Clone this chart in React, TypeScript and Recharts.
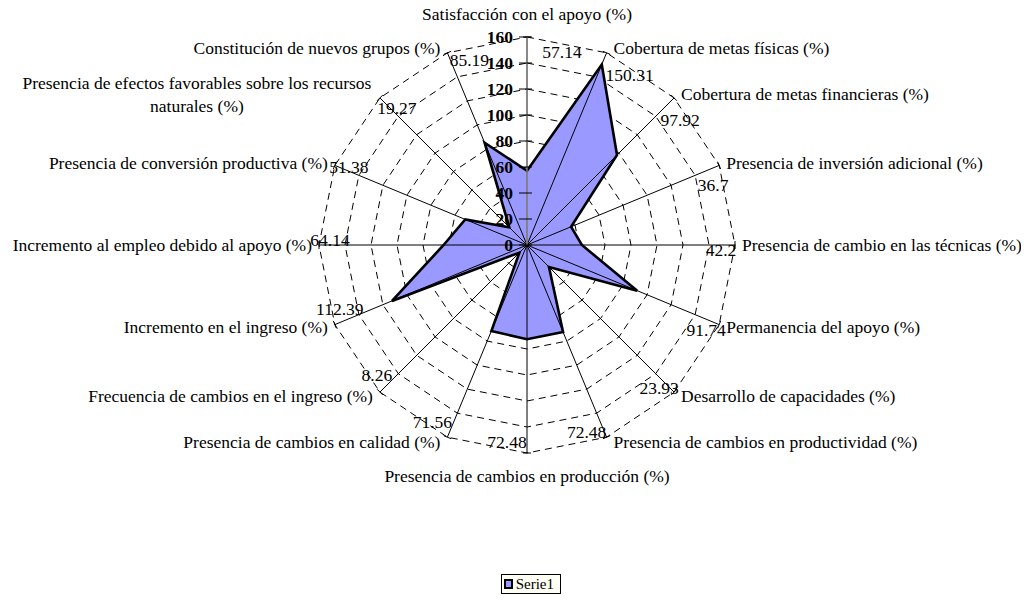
import React from 'react';
import { RadarChart, Radar, PolarGrid, PolarAngleAxis, PolarRadiusAxis, Legend } from 'recharts';

// ---- data ----
const CATEGORIES: string[] = [
  'Satisfacción con el apoyo (%)',
  'Cobertura de metas físicas (%)',
  'Cobertura de metas financieras (%)',
  'Presencia de inversión adicional (%)',
  'Presencia de cambio en las técnicas (%)',
  'Permanencia del apoyo (%)',
  'Desarrollo de capacidades (%)',
  'Presencia de cambios en productividad (%)',
  'Presencia de cambios en producción (%)',
  'Presencia de cambios en calidad (%)',
  'Frecuencia de cambios en el ingreso (%)',
  'Incremento en el ingreso (%)',
  'Incremento al empleo debido al apoyo (%)',
  'Presencia de conversión productiva (%)',
  'Presencia de efectos favorables sobre los recursos naturales (%)',
  'Constitución de nuevos grupos (%)',
];
const SERIE1: number[] = [
  57.14, 150.31, 97.92, 36.7, 42.2, 91.74, 23.93, 72.48,
  72.48, 71.56, 8.26, 112.39, 64.14, 51.38, 19.27, 85.19,
];
const RADIUS_TICKS: number[] = [0, 20, 40, 60, 80, 100, 120, 140, 160];
const SERIES_NAME = 'Serie1';

// ---- layout / style ----
const W = 1029;
const H = 602;
const CX = 527;
const CY = 245;
const R = 208;
const FONT = '"Liberation Serif", "Times New Roman", serif';
const FS = 17.5;
const FILL = '#9999FF';

// wrapped category label lines (index -> lines)
const WRAPPED: Record<number, string[]> = {
  14: ['Presencia de efectos favorables sobre los recursos', 'naturales (%)'],
};

// value label centre nudges relative to each spoke's outer end
const VALUE_NUDGE: [number, number][] = [
  [35, 15], [23, 22], [6, 22], [-6, 20], [-14, 5], [-13, 5], [-15, -4], [-20, -5],
  [-20, -11], [-15, -15], [-3, -17], [5, -16], [11, -5], [14, 2], [17, 10], [22, 7],
];

const data = CATEGORIES.map((c, i) => ({ category: c, serie1: SERIE1[i] }));

const unit = (angleDeg: number) => {
  const rad = (-angleDeg * Math.PI) / 180;
  return { ux: Math.cos(rad), uy: Math.sin(rad) };
};

const AngleTick = (props: any) => {
  const { payload, index } = props;
  const angle = payload.coordinate;
  const { ux, uy } = unit(angle);
  const ex = CX + R * ux;
  const ey = CY + R * uy;
  const label = payload.value as string;
  let anchor: 'start' | 'middle' | 'end' = 'middle';
  let tx = ex;
  let ty = ey;
  if (Math.abs(ux) < 0.01) {
    ty = uy < 0 ? ey - 23 : ey + 23;
  } else if (ux > 0) {
    anchor = 'start';
    tx = ex + 7;
    ty = ey + uy * 5;
  } else {
    anchor = 'end';
    tx = ex - 7;
    ty = ey + uy * 5;
  }
  const nudge = VALUE_NUDGE[index] || [0, 0];
  const lines = WRAPPED[index];
  const px = -uy;
  const py = ux;
  return (
    <g>
      <line x1={ex - px * 4} y1={ey - py * 4} x2={ex + px * 4} y2={ey + py * 4} stroke="#000" strokeWidth={1} />
      {lines ? (
        <text
          x={tx - 176}
          y={ty - 11.5}
          textAnchor="middle"
          dominantBaseline="central"
          fontFamily={FONT}
          fontSize={FS}
          fill="#000"
        >
          {lines.map((l, k) => (
            <tspan key={k} x={tx - 176} dy={k === 0 ? 0 : 23}>
              {l}
            </tspan>
          ))}
        </text>
      ) : (
        <text x={tx} y={ty} textAnchor={anchor} dominantBaseline="central" fontFamily={FONT} fontSize={FS} fill="#000">
          {label}
        </text>
      )}
      <text
        x={ex + nudge[0]}
        y={ey + nudge[1]}
        textAnchor="middle"
        dominantBaseline="central"
        fontFamily={FONT}
        fontSize={FS}
        fill="#000"
      >
        {String(SERIE1[index])}
      </text>
    </g>
  );
};

const RadiusTick = (props: any) => {
  const { x, y, payload } = props;
  return (
    <g>
      <line x1={x - 8} y1={y} x2={x + 5} y2={y} stroke="#000" strokeWidth={1} />
      <text
        x={x - 14}
        y={y}
        textAnchor="end"
        dominantBaseline="central"
        fontFamily={FONT}
        fontSize={FS}
        fontWeight="bold"
        fill="#000"
      >
        {payload.value}
      </text>
    </g>
  );
};

const RadarShape = (props: any) => {
  const points: any[] = props.points || [];
  const d = points.map((p, i) => `${i ? 'L' : 'M'}${p.x},${p.y}`).join(' ') + ' Z';
  return (
    <g>
      <path d={d} fill={FILL} stroke="none" />
      {points.map((p, i) => {
        const ang = typeof p.angle === 'number' ? p.angle : 90 - i * (360 / points.length);
        const { ux, uy } = unit(ang);
        const cx = typeof p.cx === 'number' ? p.cx : CX;
        const cy = typeof p.cy === 'number' ? p.cy : CY;
        const isAxis = Math.abs(ux) < 0.01 && uy < 0;
        return (
          <line
            key={i}
            x1={cx}
            y1={cy}
            x2={cx + R * ux}
            y2={cy + R * uy}
            stroke={isAxis ? '#808080' : '#000'}
            strokeWidth={isAxis ? 1.5 : 1}
          />
        );
      })}
      <path d={d} fill="none" stroke="#000" strokeWidth={2.6} strokeLinejoin="miter" />
    </g>
  );
};

const LegendBox = () => (
  <div
    style={{
      display: 'flex',
      alignItems: 'center',
      border: '1px solid #000',
      background: '#FFFFF4',
      padding: '2px 6px 2px 2px',
      width: 60,
      height: 20,
      boxSizing: 'border-box',
      fontFamily: FONT,
      fontSize: 15,
      color: '#000',
    }}
  >
    <span
      style={{
        display: 'inline-block',
        width: 10,
        height: 10,
        background: FILL,
        border: '2px solid #000',
        boxSizing: 'border-box',
        marginRight: 3,
      }}
    />
    <span>{SERIES_NAME}</span>
  </div>
);

export default function App() {
  return (
    <div style={{ position: 'relative', width: W, height: H, margin: -8, background: '#fff' }}>
      <RadarChart width={W} height={H} data={data} cx={CX} cy={CY} outerRadius={R} margin={{ top: 0, right: 0, bottom: 0, left: 0 }}>
        <PolarGrid gridType="polygon" radialLines={false} stroke="#000" strokeWidth={1} strokeDasharray="7 5" />
        <PolarAngleAxis dataKey="category" axisLine={false} tickLine={false} tick={<AngleTick />} />
        <PolarRadiusAxis
          angle={90}
          domain={[0, 160]}
          ticks={RADIUS_TICKS as any}
          tickCount={9}
          axisLine={{ stroke: '#808080', strokeWidth: 1.5 }}
          tickLine={false}
          tick={<RadiusTick />}
        />
        <Radar
          name={SERIES_NAME}
          dataKey="serie1"
          stroke="#000"
          fill={FILL}
          fillOpacity={1}
          isAnimationActive={false}
          shape={(p: any) => <RadarShape {...p} />}
        />
        <Legend content={() => <LegendBox />} wrapperStyle={{ position: 'absolute', left: 501, top: 574, width: 'auto', height: 'auto' }} />
      </RadarChart>
    </div>
  );
}
